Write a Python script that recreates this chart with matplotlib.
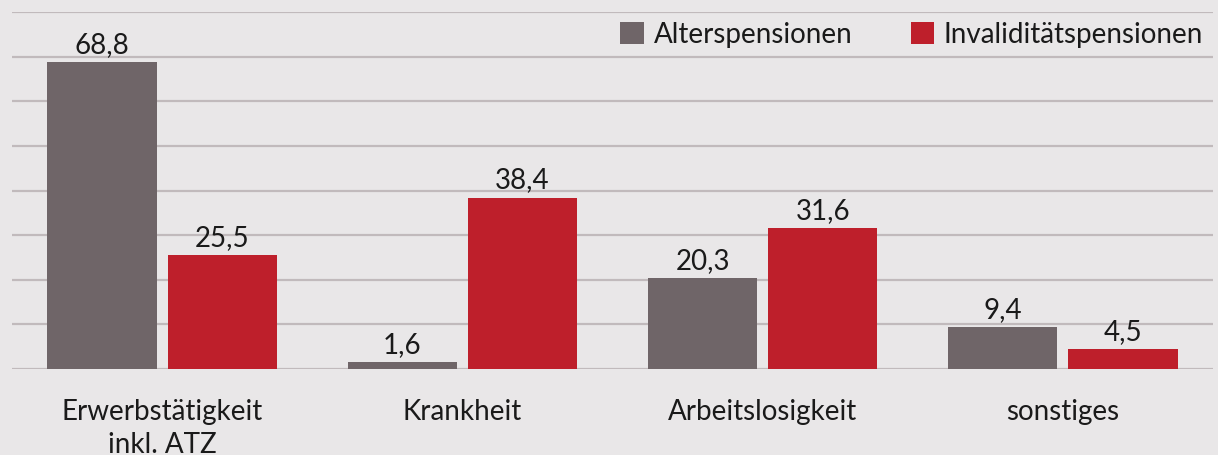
import matplotlib.pyplot as plt
import numpy as np

# data
categories = ['Erwerbstätigkeit\ninkl. ATZ', 'Krankheit', 'Arbeitslosigkeit', 'sonstiges']
alters = [68.8, 1.6, 20.3, 9.4]
invalid = [25.5, 38.4, 31.6, 4.5]
series_names = ['Alterspensionen', 'Invaliditätspensionen']

bg = '#e9e7e8'
grey = '#6f6568'
red = '#be1f2b'
grid_col = '#c1babc'

plt.rcParams['font.family'] = ['Lato', 'DejaVu Sans']

fig = plt.figure(figsize=(12.18, 4.55), dpi=100)
fig.patch.set_facecolor(bg)
ax = fig.add_axes([12 / 1218, 1 - 369 / 455, 1201 / 1218, 357 / 455])
ax.set_facecolor(bg)

x = np.arange(len(categories))
w = 0.364
b1 = ax.bar(x - 0.2, alters, w, color=grey, zorder=3, label=series_names[0])
b2 = ax.bar(x + 0.2, invalid, w, color=red, zorder=3, label=series_names[1])

for bars, vals in ((b1, alters), (b2, invalid)):
    for rect, v in zip(bars, vals):
        ax.annotate(f'{v:.1f}'.replace('.', ','),
                    (rect.get_x() + rect.get_width() / 2, rect.get_height()),
                    xytext=(0, 3), textcoords='offset points',
                    ha='center', va='bottom', fontsize=20, color='#1a1a1a')

ax.set_xlim(-0.5, 3.5)
ax.set_ylim(0, 80)
ax.set_yticks(np.arange(0, 81, 10))
ax.yaxis.grid(True, color=grid_col, linewidth=1.6, zorder=0)
ax.tick_params(axis='y', left=False, labelleft=False)
ax.tick_params(axis='x', bottom=False, pad=18, labelsize=20, labelcolor='#1a1a1a')
ax.set_xticks(x)
ax.set_xticklabels(categories, linespacing=1.32, va='top')
for s in ax.spines.values():
    s.set_visible(False)

leg = ax.legend(loc='upper right', bbox_to_anchor=(1.0, 1.0), ncol=2, frameon=False,
                fontsize=20, handlelength=0.85, handleheight=0.85, handletextpad=0.35,
                columnspacing=2.1, borderaxespad=0.15, borderpad=0.2)
for t in leg.get_texts():
    t.set_color('#1a1a1a')

fig.savefig('out.png', dpi=100, facecolor=bg)
